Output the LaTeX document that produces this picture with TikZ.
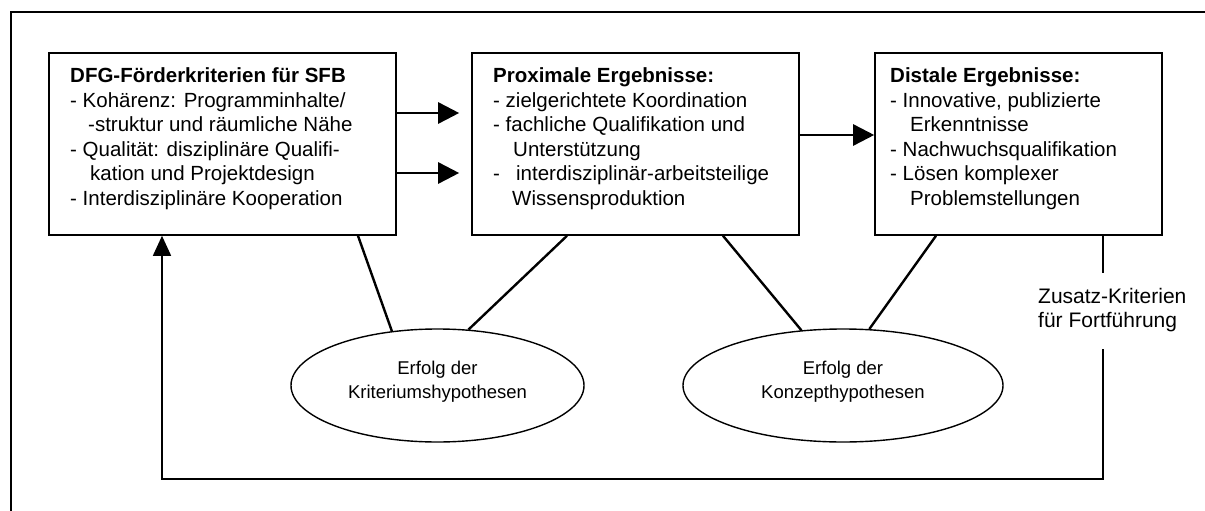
\documentclass[tikz,border=0pt]{standalone}
\usepackage{fontspec}
\setmainfont{Liberation Sans}
\usetikzlibrary{calc,shapes.geometric,arrows.meta}
\begin{document}
\begin{tikzpicture}[x=1pt,y=-1pt,
  every node/.style={inner sep=0pt},
  box/.style={draw,line width=1.6pt,minimum height=182pt},
  boxtext/.style={anchor=base west},
  hyp/.style={draw,ellipse,line width=1.4pt,minimum height=113pt,align=center,
    font=\fontsize{18.5}{24}\selectfont},
  flow/.style={line width=2.6pt,-{Triangle[length=21pt,width=21pt]}},
  link/.style={line width=2.4pt},
  loop/.style={line width=1.6pt},
]
\useasboundingbox (0,0) rectangle (1205,511);

% open outer frame
\draw[line width=1.6pt] (11,511) -- (11,12) -- (1205,12);

% the three stages
\node[box,minimum width=347pt] (b1) at (222.5,144) {};
\node[box,minimum width=327pt] (b2) at (635.5,144) {};
\node[box,minimum width=287pt] (b3) at (1018.5,144) {};

\node[boxtext] (t1) at (70,83) {\parbox[t]{320pt}{\fontsize{20.5}{24.5}\selectfont
  \textbf{DFG-Förderkriterien für SFB}\\
  - Kohärenz: Programminhalte/\\
  \hspace*{18pt}-struktur und räumliche Nähe\\
  - Qualität: disziplinäre Qualifi-\\
  \hspace*{20pt}kation und Projektdesign\\
  - Interdisziplinäre Kooperation}};

\node[boxtext] (t2) at (493,83) {\parbox[t]{300pt}{\fontsize{20.5}{24.5}\selectfont
  \textbf{Proximale Ergebnisse:}\\
  - zielgerichtete Koordination\\
  - fachliche Qualifikation und\\
  \hspace*{20pt}Unterstützung\\
  \makebox[23pt][l]{-}interdisziplinär-arbeitsteilige\\
  \hspace*{19pt}Wissensproduktion}};

\node[boxtext] (t3) at (890,83) {\parbox[t]{270pt}{\fontsize{20.5}{24.5}\selectfont
  \textbf{Distale Ergebnisse:}\\
  - Innovative, publizierte\\
  \hspace*{20pt}Erkenntnisse\\
  - Nachwuchsqualifikation\\
  - Lösen komplexer\\
  \hspace*{20pt}Problemstellungen}};

% forward arrows
\draw[flow] ($(b1.east)+(0,-31)$) -- ($(b2.west)+(-12,-31)$);
\draw[flow] ($(b1.east)+(0,29)$) -- ($(b2.west)+(-12,29)$);
\draw[flow] ($(b2.east)+(0,-9)$) -- ($(b3.west)+(0,-9)$);

% hypotheses (the strut lifts the two lines a little above the centre)
\node[hyp,minimum width=293pt] (e1) at (437.5,385.5)
  {Erfolg der\\Kriteriumshypothesen\rule[-12pt]{0pt}{1pt}};
\node[hyp,minimum width=320pt] (e2) at (843,385.5)
  {Erfolg der\\Konzepthypothesen\rule[-12pt]{0pt}{1pt}};

\draw[link] ($(b1.south)+(135.5,0)$) -- (e1.130.6);
\draw[link] ($(b2.south)+(-68.5,0)$) -- (e1.61);
\draw[link] ($(b2.south)+(87.5,0)$) -- (e2.127.6);
\draw[link] ($(b3.south)+(-82.5,0)$) -- (e2.65.9);

% feedback loop for continuation
\node[anchor=base west,align=left,font=\fontsize{21}{24}\selectfont] (zk) at (1038,327)
  {Zusatz-Kriterien\\für Fortführung};
\coordinate (fb1) at (1103,273);
\coordinate (fb2) at (1103,349);
\coordinate (fb3) at (1103,479);
\coordinate (fb4) at (162,479);
\draw[line width=1.2pt] ($(b3.south)+(84.5,0)$) -- (fb1);
\draw[loop,-{Triangle[length=20pt,width=18pt]}] (fb2) -- (fb3) -- (fb4) -- ($(b1.south)+(-60.5,0)$);
\end{tikzpicture}
\end{document}
